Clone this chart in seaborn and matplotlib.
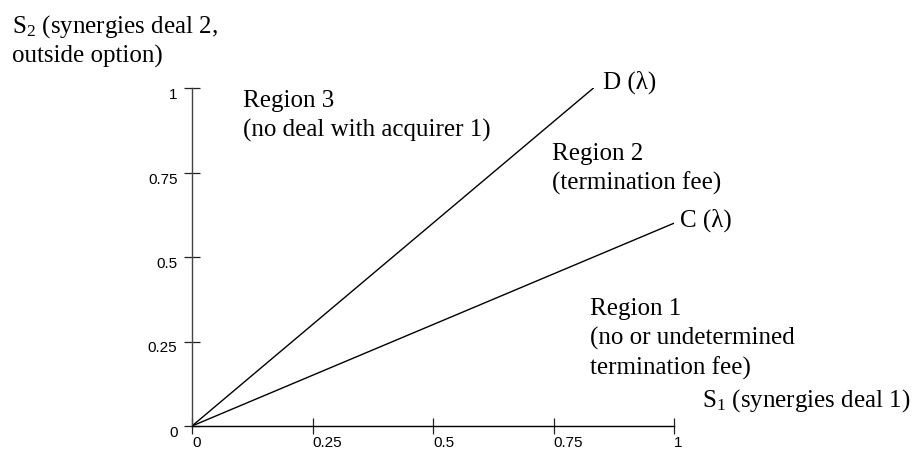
import matplotlib
matplotlib.use("Agg")
import matplotlib.pyplot as plt
import seaborn as sns
import pandas as pd

# ---- data ----
tick_values = [0, 0.25, 0.5, 0.75, 1]
tick_labels = ["0", "0.25", "0.5", "0.75", "1"]
line_names = ["D", "D", "C", "C"]
s1_values = [0.0, 0.833, 0.0, 1.0]
s2_values = [0.0, 1.0, 0.0, 0.6]

sns.set_theme(style="white")
plt.rcParams["font.family"] = ["Liberation Sans", "DejaVu Sans"]
plt.rcParams["mathtext.fontset"] = "custom"
plt.rcParams["mathtext.rm"] = "Liberation Serif"
plt.rcParams["mathtext.it"] = "Liberation Serif:italic"

W, H = 919, 453
fig = plt.figure(figsize=(W / 100, H / 100), dpi=100)
x0, x1 = 192, 674
y0, y1 = 426, 88
ax = fig.add_axes([x0 / W, (H - y0) / H, (x1 - x0) / W, (y0 - y1) / H])

df = pd.DataFrame({"line": line_names, "s1": s1_values, "s2": s2_values})
sns.lineplot(data=df, x="s1", y="s2", units="line", estimator=None,
             color="black", linewidth=1.0, ax=ax, legend=False, sort=False)

ax.set_xlim(0, 1)
ax.set_ylim(0, 1)
ax.set_xlabel("")
ax.set_ylabel("")
for s in ["top", "right"]:
    ax.spines[s].set_visible(False)
ax.spines["left"].set_color("#444444")
ax.spines["bottom"].set_color("black")
ax.spines["left"].set_linewidth(1.0)
ax.spines["bottom"].set_linewidth(1.0)
ax.patch.set_alpha(0)

ax.set_xticks(tick_values)
ax.set_xticklabels(tick_labels, ha="left")
ax.set_yticks(tick_values)
ax.set_yticklabels(tick_labels, va="top")
ax.tick_params(axis="both", which="major", bottom=True, left=True,
               direction="inout", length=11, width=0.9,
               color="#222222", labelsize=11, labelcolor="black")
ax.tick_params(axis="x", pad=2)
ax.tick_params(axis="y", pad=5)
ax.grid(False)

serif = dict(family="Liberation Serif", fontsize=18, color="black",
             va="baseline", ha="left")

def put(px, py, s):
    fig.text(px / W, 1 - py / H, s, **serif)

put(12, 33, r"S$_\mathrm{2}$ (synergies deal 2,")
put(12, 62.5, "outside option)")
put(243, 106.7, "Region 3")
put(243, 137, "(no deal with acquirer 1)")
put(603, 88.3, "D (\u03bb)")
put(551.7, 160, "Region 2")
put(551.7, 190, "(termination fee)")
put(680, 226.7, "C (\u03bb)")
put(590, 315, "Region 1")
put(590, 345, "(no or undetermined")
put(590, 375, "termination fee)")
put(702, 407, r"S$_\mathrm{1}$ (synergies deal 1)")

fig.savefig("out.png", dpi=100)
